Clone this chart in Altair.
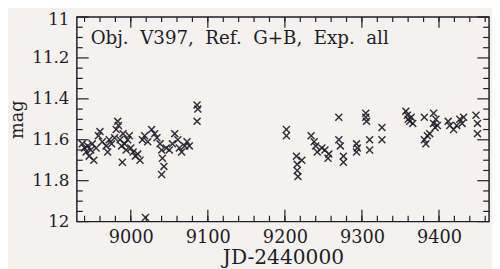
import altair as alt
import pandas as pd

# ---------------- data ----------------
jd = [
    8937, 8940, 8942, 8944, 8946, 8948, 8950, 8952, 8955, 8958, 8960, 8963,
    8968, 8970, 8972, 8975, 8979, 8981, 8983, 8984, 8986, 8988, 8989, 8990,
    8992, 8994, 8996, 8998, 9000, 9003, 9006, 9009, 9012, 9015, 9018, 9019,
    9022, 9027, 9031, 9034, 9038, 9040, 9041, 9043, 9040, 9046, 9050, 9054,
    9057, 9061, 9063, 9066, 9070, 9073, 9076, 9086, 9087, 9086,
    9202, 9202, 9215, 9216, 9216, 9217, 9222, 9234, 9238, 9240, 9242, 9248,
    9252, 9257, 9256, 9270, 9270, 9272, 9276, 9276, 9293, 9293, 9294, 9305,
    9305, 9306, 9310, 9310, 9326, 9326,
    9357, 9359, 9360, 9362, 9366, 9364, 9381, 9381, 9383, 9385, 9388, 9393,
    9393, 9396, 9395, 9398, 9412, 9414, 9419, 9423, 9427, 9430, 9432, 9448,
    9450, 9450,
]
mag = [
    11.62, 11.64, 11.66, 11.63, 11.68, 11.65, 11.62, 11.70, 11.64, 11.58, 11.56, 11.61,
    11.63, 11.66, 11.60, 11.62, 11.59, 11.55, 11.51, 11.53, 11.60, 11.63, 11.71, 11.57,
    11.62, 11.65, 11.60, 11.58, 11.64, 11.66, 11.68, 11.67, 11.70, 11.60, 11.58, 11.98,
    11.61, 11.55, 11.57, 11.59, 11.62, 11.65, 11.69, 11.73, 11.77, 11.64, 11.65, 11.62,
    11.57, 11.60, 11.64, 11.66, 11.63, 11.61, 11.63, 11.43, 11.45, 11.51,
    11.55, 11.58, 11.68, 11.72, 11.75, 11.78, 11.70, 11.58, 11.61, 11.63, 11.66, 11.64,
    11.65, 11.67, 11.69, 11.49, 11.60, 11.63, 11.68, 11.71, 11.62, 11.66, 11.64, 11.47,
    11.49, 11.51, 11.60, 11.65, 11.54, 11.60,
    11.46, 11.48, 11.50, 11.51, 11.52, 11.49, 11.49, 11.60, 11.62, 11.58, 11.57, 11.47,
    11.52, 11.50, 11.54, 11.53, 11.51, 11.53, 11.55, 11.53, 11.50, 11.52, 11.49, 11.48,
    11.52, 11.57,
]

x_labels = [9000, 9100, 9200, 9300, 9400]
x_major = [9000, 9100, 9200, 9300, 9400]
x_minor = list(range(8940, 9461, 20))
y_labels = [11, 11.2, 11.4, 11.6, 11.8, 12]
y_major = [11, 11.2, 11.4, 11.6, 11.8, 12]
y_minor = [11.05, 11.1, 11.15, 11.25, 11.3, 11.35, 11.45, 11.5, 11.55,
           11.65, 11.7, 11.75, 11.85, 11.9, 11.95]
SP = "\u00a0\u00a0"
title_text = SP.join(["Obj.", "V397,", "Ref.", "G+B,", "Exp.", "all"])
x_title = "JD-2440000"
y_title = "mag"

# ---------------- layout / style ----------------
W, H = 419, 208
INK = "#1e1e28"
FONT = "DejaVu Serif"

points = pd.DataFrame({"jd": jd, "mag": mag})
xs = alt.Scale(domain=[8930, 9465], nice=False, zero=False)
ys = alt.Scale(domain=[11, 12], nice=False, zero=False, reverse=True)

x_axis = alt.Axis(values=x_labels, format="d", ticks=False, tickSize=0, domain=False,
                  grid=False, labelFont=FONT, labelFontSize=18, labelColor=INK,
                  labelPadding=7, title=x_title, titleFont=FONT, titleFontSize=20.5,
                  titleFontWeight="normal", titleColor=INK, titlePadding=2)
y_axis = alt.Axis(values=y_labels, format="~g", ticks=False, tickSize=0, domain=False,
                  grid=False, labelFont=FONT, labelFontSize=17, labelColor=INK,
                  labelPadding=8,
                  labelOffset={"condition": {"test": "datum.value == 11", "value": 3}, "value": 0},
                  title=y_title, titleFont=FONT, titleFontSize=18,
                  titleFontWeight="normal", titleColor=INK, titlePadding=5)

X = alt.X("jd:Q", scale=xs, axis=x_axis)
Y = alt.Y("mag:Q", scale=ys, axis=y_axis)

cross = "M-1,-1L1,1M-1,1L1,-1"
pts = alt.Chart(points).mark_point(shape=cross, filled=False, size=50,
                                   strokeWidth=1.5, color=INK, opacity=0.9).encode(x=X, y=Y)

def xticks(vals, y0, y1):
    return alt.Chart(pd.DataFrame({"jd": vals})).mark_rule(color=INK, strokeWidth=1.2).encode(
        x=X, y=alt.value(y0), y2=alt.value(y1))

def yticks(vals, x0, x1):
    return alt.Chart(pd.DataFrame({"mag": vals})).mark_rule(color=INK, strokeWidth=1.2).encode(
        y=Y, x=alt.value(x0), x2=alt.value(x1))

ticks = [
    xticks(x_major, H, H - 12), xticks(x_minor, H, H - 6),
    xticks(x_major, 0, 11), xticks(x_minor, 0, 5),
    yticks(y_major, 0, 12), yticks(y_minor, 0, 6),
    yticks(y_major, W, W - 12), yticks(y_minor, W, W - 6),
]

label = alt.Chart(pd.DataFrame({"t": [title_text]})).mark_text(
    align="left", baseline="alphabetic", font=FONT, fontSize=18.5, color=INK
).encode(text="t:N", x=alt.value(14), y=alt.value(27))

chart = alt.layer(pts, *ticks, label).properties(
    width=W, height=H,
    autosize=alt.AutoSizeParams(type="none"),
    padding={"left": 70, "top": 7, "right": 3, "bottom": 46},
    background="#f5f1ef",
).configure_view(stroke=INK, strokeWidth=1.5)

chart.save("out.html", embed_options={"renderer": "svg", "actions": False})
